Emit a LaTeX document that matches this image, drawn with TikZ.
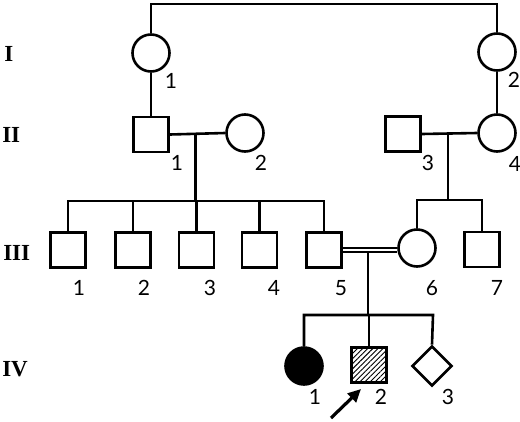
\documentclass[tikz,border=0pt]{standalone}
\usepackage{fontspec}
\setmainfont{Liberation Serif}
\newfontfamily\numfont{Lato}
\usetikzlibrary{shapes.geometric,patterns.meta,arrows.meta}
\begin{document}
\begin{tikzpicture}[x=1pt,y=-1pt,
  line width=2.6pt,
  male/.style={draw,rectangle,minimum size=35pt,inner sep=0pt},
  female/.style={draw,circle,minimum size=37pt,inner sep=0pt},
  unknown/.style={draw,diamond,minimum size=40pt,inner sep=0pt},
  affected/.style={fill=black},
  hatched/.style={pattern={Lines[angle=45,distance=3.6pt,line width=0.9pt]}},
  gen/.style={font=\fontsize{23}{23}\selectfont\bfseries,anchor=west,inner sep=0pt},
  num/.style={font=\numfont\fontsize{21}{21}\selectfont,inner sep=0pt},
  line/.style={line width=2.6pt}]
\useasboundingbox (0,0) rectangle (520,421);
% generation labels
\node[gen] (gI) at (3,54) {I};
\node[gen] (gII) at (1,135) {II};
\node[gen] (gIII) at (2,253) {III};
\node[gen] (gIV) at (1,369) {IV};
% Generation I
\node[female] (i1) at (151,53) {};
\node[female] (i2) at (497,52) {};
\coordinate (t1) at (151,4);
\coordinate (t2) at (497,4);
\draw[line] (i1.north) -- (t1) -- (t2) -- (i2.north);
\node[num] (li1) at (171,81) {1};
\node[num] (li2) at (514,80) {2};
% Generation II
\node[male] (ii1) at (151,134.5) {};
\node[female] (ii2) at (245,133) {};
\node[male] (ii3) at (403,134) {};
\node[female] (ii4) at (497,133) {};
\draw[line] (i1.south) -- (ii1.north);
\draw[line] (i2.south) -- (ii4.north);
\draw[line] (ii1.east) -- (ii2.west);
\draw[line] (ii3.east) -- (ii4.west);
\node[num] (lii1) at (177,163) {1};
\node[num] (lii2) at (261,163) {2};
\node[num] (lii3) at (428,163) {3};
\node[num] (lii4) at (515,164) {4};
% Generation III
\node[male] (iii1) at (68,250) {};
\node[male] (iii2) at (133,250) {};
\node[male] (iii3) at (196.5,250) {};
\node[male] (iii4) at (259.5,250) {};
\node[male] (iii5) at (324,250) {};
\node[female] (iii6) at (417,248) {};
\node[male] (iii7) at (482,249.5) {};
\coordinate (m1) at (195.5,133);
\coordinate (s1) at (195.5,201);
\coordinate (s1a) at (68,201);
\coordinate (s1b) at (324,201);
\draw[line] (m1) -- (s1);
\draw[line] (iii1.north) -- (s1a) -- (s1b) -- (iii5.north);
\foreach \c in {iii2,iii3,iii4} \draw[line] (\c.north) -- (\c.north |- s1);
\coordinate (m2) at (448,134);
\coordinate (s2) at (448,200);
\coordinate (s2a) at (417,200);
\coordinate (s2b) at (482,200);
\draw[line] (m2) -- (s2);
\draw[line] (iii6.north) -- (s2a) -- (s2b) -- (iii7.north);
% consanguineous marriage
\draw[line width=1.9pt] ([yshift=-2.4pt]iii5.east) -- ([yshift=-2.4pt]iii5.east -| iii6.west);
\draw[line width=1.9pt] ([yshift=2.4pt]iii5.east) -- ([yshift=2.4pt]iii5.east -| iii6.west);
\node[num] (liii1) at (79,288) {1};
\node[num] (liii2) at (144,288) {2};
\node[num] (liii3) at (210,288) {3};
\node[num] (liii4) at (274,288) {4};
\node[num] (liii5) at (341,288) {5};
\node[num] (liii6) at (432,288) {6};
\node[num] (liii7) at (497,288) {7};
% Generation IV
\node[female,affected] (iv1) at (304,366) {};
\node[male,hatched] (iv2) at (369,365) {};
\node[unknown] (iv3) at (432,366) {};
\coordinate (m3) at (368,252.5);
\coordinate (s3) at (368,315);
\coordinate (s3a) at (304,315);
\coordinate (s3b) at (433,315);
\draw[line] (m3) -- (s3);
\draw[line] (iv1.north) -- (s3a) -- (s3b) -- (iv3.north);
\draw[line] (iv2.north) -- (iv2.north |- s3);
\node[num] (liv1) at (315,397) {1};
\node[num] (liv2) at (381,397) {2};
\node[num] (liv3) at (448,397) {3};
% proband arrow
\coordinate (ar) at (331,418);
\draw[line width=3.2pt,-{Triangle[length=13pt,width=12pt]}] (ar) -- (361,389);
\end{tikzpicture}
\end{document}
